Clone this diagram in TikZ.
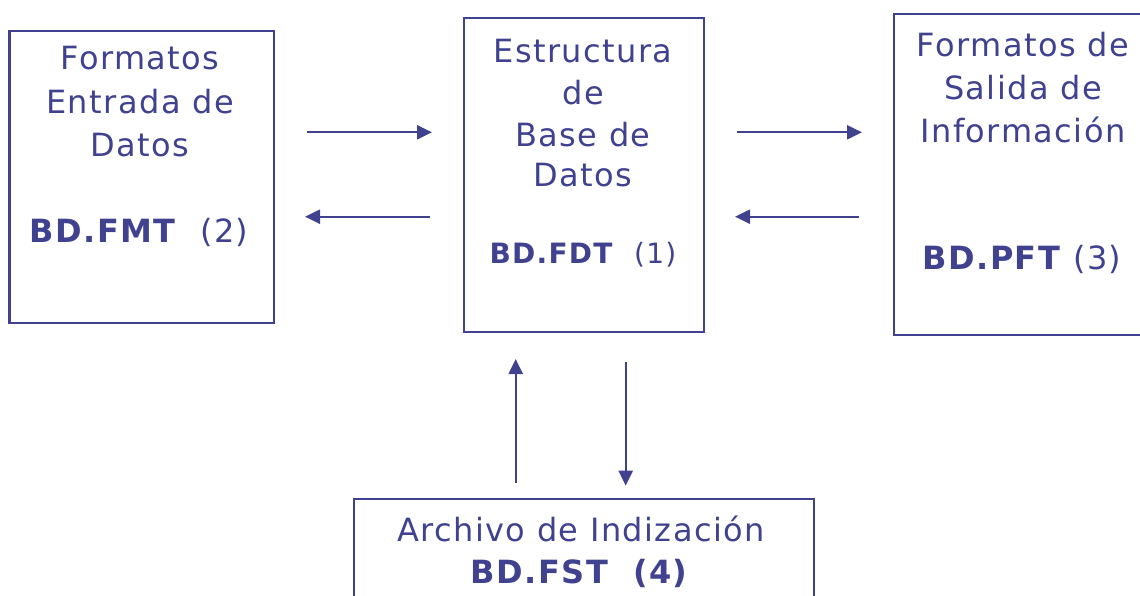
\documentclass[tikz,border=0pt]{standalone}
\usepackage{fontspec}
\setmainfont{DejaVu Sans}[LetterSpace=4.5]
\usetikzlibrary{arrows.meta}
\definecolor{dbblue}{RGB}{64,66,144}

\begin{document}
\begin{tikzpicture}[x=1pt, y=-1pt,
    box/.style={draw=dbblue, line width=2.2pt},
    lbl/.style={text=dbblue, anchor=base, inner sep=0pt, font=\fontsize{32}{38}\selectfont},
    code/.style={text=dbblue, anchor=base, inner sep=0pt, font=\fontsize{32}{38}\selectfont},
    flow/.style={dbblue, line width=2.2pt, -{Triangle[length=15pt, width=14pt]}}]
    \useasboundingbox (0,0) rectangle (1140,596);
    \clip (0,0) rectangle (1140,596);

    % boxes
    \node[box, minimum width=264.5pt, minimum height=292pt] (fmt) at (141.75,176.7) {};
    \node[box, minimum width=240pt, minimum height=314pt] (fdt) at (584,175) {};
    \node[box, minimum width=262pt, minimum height=321pt] (pft) at (1025,174.5) {};
    \node[box, minimum width=460pt, minimum height=120pt] (fst) at (584,558.7) {};

    % texts
    \foreach \t/\y [count=\i] in {Formatos/70, Entrada de/114, Datos/157}
        \node[lbl] (fmt\i) at (140,\y) {\t};
    \node[code] (fmtcode) at (139,242.7) {\textbf{BD.FMT}\ \ (2)};

    \foreach \t/\y [count=\i] in {Estructura/62.7, de/105, Base de/146.7, Datos/187}
        \node[lbl] (fdt\i) at (583,\y) {\t};
    \node[code, font=\fontsize{28}{34}\selectfont] (fdtcode) at (583,263.3) {\textbf{BD.FDT}\ \ (1)};

    \foreach \t/\y [count=\i] in {Formatos de/57, Salida de/100, Información/143}
        \node[lbl] (pft\i) at (1023,\y) {\t};
    \node[code] (pftcode) at (1022,269) {\textbf{BD.PFT} (3)};

    \node[lbl] (fst1) at (581,541.7) {Archivo de Indización};
    \node[code] (fstcode) at (580,583) {\textbf{BD.FST\ \ (4)}};

    % arrow ends
    \coordinate (a1) at (307,132.3);  \coordinate (b1) at (432,132.3);
    \coordinate (a2) at (430,216.7);  \coordinate (b2) at (305,216.7);
    \coordinate (a3) at (737,132.3);  \coordinate (b3) at (862,132.3);
    \coordinate (a4) at (859,216.7);  \coordinate (b4) at (735,216.7);
    \coordinate (a5) at (515.7,483);  \coordinate (b5) at (515.7,359);
    \coordinate (a6) at (625.7,361.7); \coordinate (b6) at (625.7,485.7);
    \foreach \n in {1,...,6}
        \draw[flow] (a\n) -- (b\n);
\end{tikzpicture}
\end{document}
